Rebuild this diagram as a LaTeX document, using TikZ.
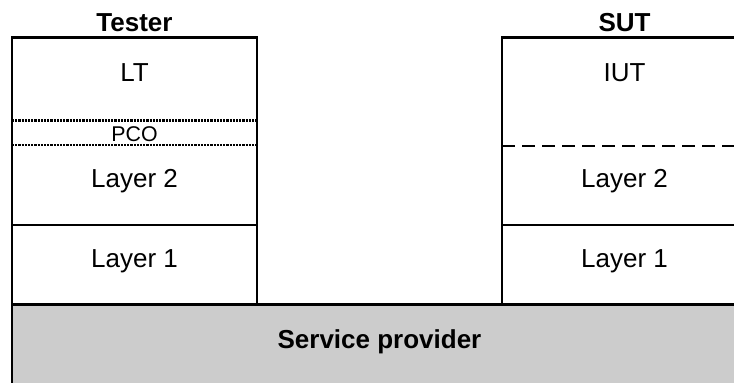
\documentclass[tikz,border=0pt]{standalone}
\usepackage{fontspec}
\setmainfont{Liberation Sans}
\definecolor{spgray}{RGB}{204,204,204}
\begin{document}
\begin{tikzpicture}[x=0.75pt,y=0.75pt,yscale=-1,xscale=1,
  box/.style={line width=1.6pt},
  lbl/.style={anchor=base,inner sep=0pt,font=\fontsize{19.5}{22}\selectfont},
  ttl/.style={anchor=base,inner sep=0pt,font=\fontsize{19.5}{22}\selectfont\bfseries},
  small/.style={anchor=base,inner sep=0pt,font=\fontsize{16}{18}\selectfont}]
\clip (0,0) rectangle (734,382);

%Shape: Rectangle [service provider]
\filldraw[box,fill=spgray] (12,304.5) rectangle (760,400);

%Shape: Tester column
\draw[box] (12,304.5) -- (12,37.5) -- (257,37.5) -- (257,304.5);
\draw[box] (12,225) -- (257,225);
%Dotted lines [PCO]
\draw[line width=2pt,dash pattern=on 1.6pt off 0.8pt] (12,120.5) -- (257,120.5);
\draw[line width=2pt,dash pattern=on 1.6pt off 0.8pt] (12,145) -- (257,145);

%Shape: SUT column
\draw[box] (502,304.5) -- (502,37.5) -- (760,37.5);
\draw[box] (502,225) -- (760,225);
%Dashed line
\draw[line width=2.2pt,dash pattern=on 9.75pt off 5.25pt] (502,146) -- (760,146);

% Text Node
\node[ttl] (tester) at (134.5,31.5) {Tester};
\node[ttl] (sut) at (624.5,31.5) {SUT};
% Text Node
\node[lbl] (lt) at (134.5,81) {LT};
\node[lbl] (iut) at (624.5,81) {IUT};
\node[small] (pco) at (134.5,141) {PCO};
% Text Node
\node[lbl] (ltwo) at (134.5,187) {Layer 2};
\node[lbl] (rtwo) at (624.5,187) {Layer 2};
\node[lbl] (lone) at (134.5,267) {Layer 1};
\node[lbl] (rone) at (624.5,267) {Layer 1};
% Text Node
\node[ttl] (sp) at (379.5,348) {Service provider};

\end{tikzpicture}
\end{document}
